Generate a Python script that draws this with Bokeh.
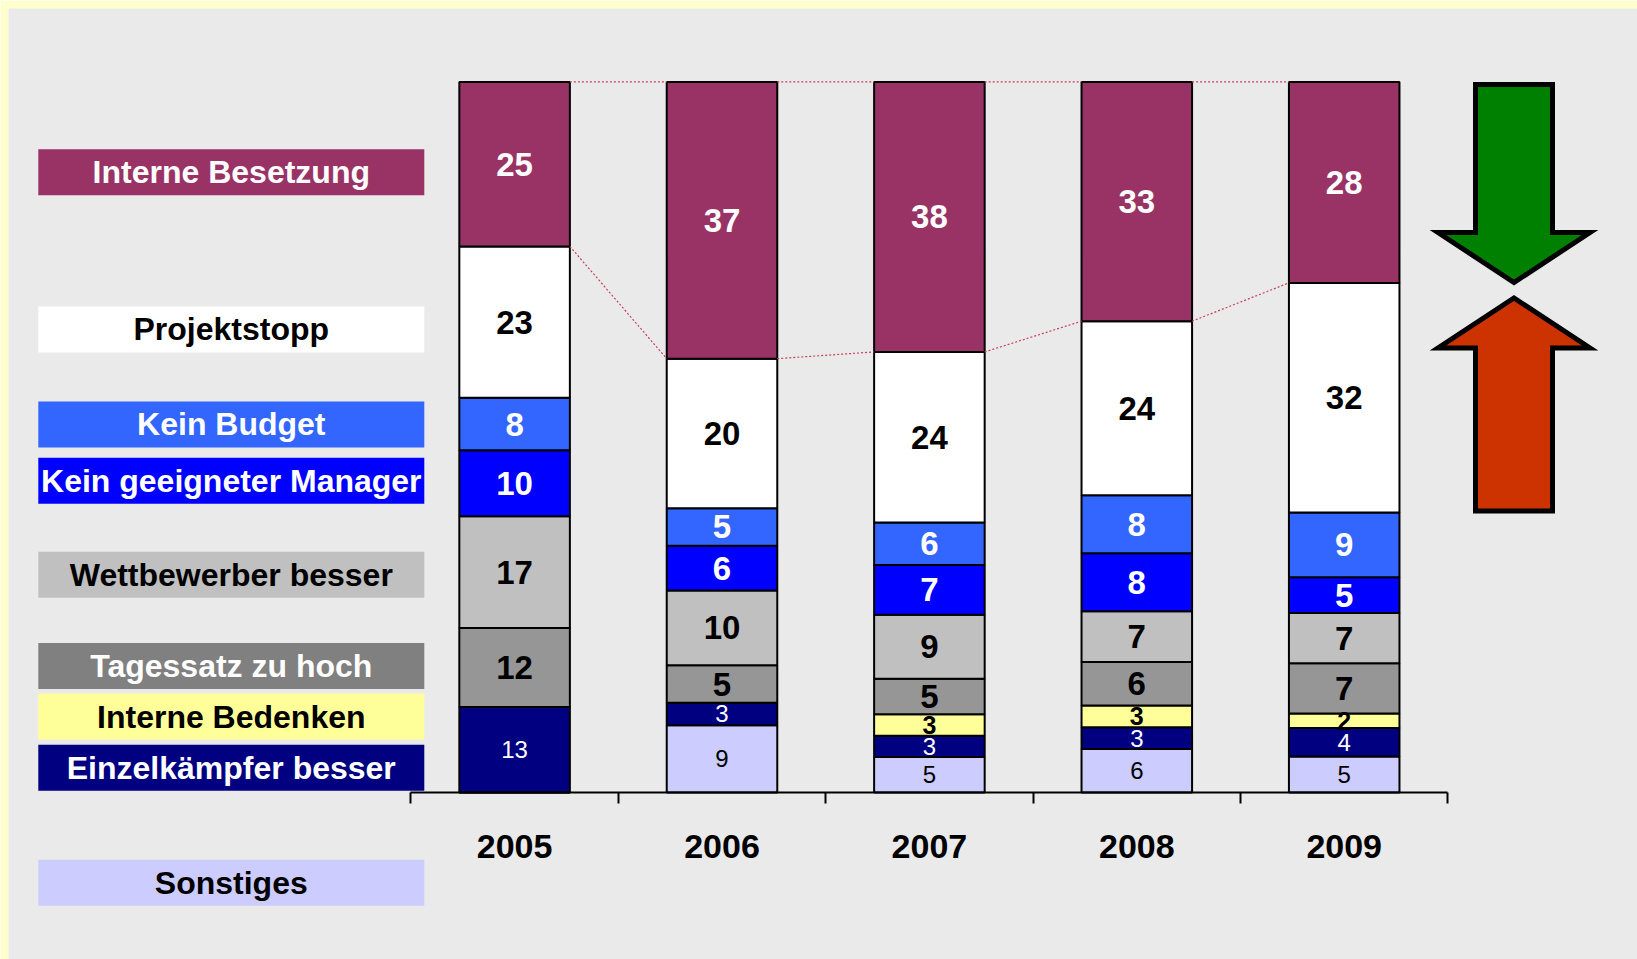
from bokeh.plotting import figure
from bokeh.models import Range1d, LinearAxis, FixedTicker, ColumnDataSource
from bokeh.core.properties import value
from bokeh.embed import file_html
from bokeh.resources import INLINE

# ---------------- data ----------------
years = ["2005", "2006", "2007", "2008", "2009"]

sonstiges = [0, 9, 5, 6, 5]
einzelkaempfer_besser = [13, 3, 3, 3, 4]
interne_bedenken = [0, 0, 3, 3, 2]
tagessatz_zu_hoch = [12, 5, 5, 6, 7]
wettbewerber_besser = [17, 10, 9, 7, 7]
kein_geeigneter_manager = [10, 6, 7, 8, 5]
kein_budget = [8, 5, 6, 8, 9]
projektstopp = [23, 20, 24, 24, 32]
interne_besetzung = [25, 37, 38, 33, 28]

series_names = ["Sonstiges", "Einzelkämpfer besser", "Interne Bedenken",
                "Tagessatz zu hoch", "Wettbewerber besser",
                "Kein geeigneter Manager", "Kein Budget", "Projektstopp",
                "Interne Besetzung"]
series_values = [sonstiges, einzelkaempfer_besser, interne_bedenken,
                 tagessatz_zu_hoch, wettbewerber_besser,
                 kein_geeigneter_manager, kein_budget, projektstopp,
                 interne_besetzung]

# ---------------- styles ----------------
bar_colors = ["#CCCCFF", "#000080", "#FFFF99", "#969696", "#C0C0C0",
              "#0000FF", "#3366FF", "#FFFFFF", "#993366"]
box_colors = ["#CCCCFF", "#000080", "#FFFF99", "#808080", "#C0C0C0",
              "#0000FF", "#3366FF", "#FFFFFF", "#993366"]
box_text_colors = ["black", "white", "black", "white", "black",
                   "white", "white", "black", "white"]
val_text_colors = ["black", "white", "black", "black", "black",
                   "white", "white", "black", "white"]
val_style = ["normal", "normal", "small", "big", "big", "big", "big", "big", "big"]

FONT = "Liberation Sans"
BG = "#EAEAEA"
EDGE = "#FFFFCC"

W, H = 1637, 959
EDGE_PX = 8
FW, FH = W - EDGE_PX, H - EDGE_PX   # frame size
# layout in frame pixels
X_BOUND_PX = 402.4      # left end of category axis
CAT_PX = 207.4          # width of one category
Y0_PX = 784.0           # baseline (0 %)
PX_PER_UNIT = 7.106     # pixels per percent


def xd(px):
    return -0.5 + (px - X_BOUND_PX) / CAT_PX


def yd(py):
    return (Y0_PX - py) / PX_PER_UNIT


p = figure(width=W, height=H, output_backend="svg", toolbar_location=None,
           x_range=Range1d(xd(0), xd(FW)), y_range=Range1d(yd(FH), yd(0)),
           x_axis_type=None, y_axis_type=None,
           min_border_left=EDGE_PX, min_border_top=EDGE_PX,
           min_border_right=0, min_border_bottom=0,
           background_fill_color=BG, border_fill_color=EDGE,
           outline_line_color=None)

# ---------------- stacked 100 % bars ----------------
n = len(years)
totals = [sum(s[i] for s in series_values) for i in range(n)]
xs = list(range(n))
BAR_W = 0.533

bottoms = [0.0] * n
label_groups = {"big": dict(x=[], y=[], t=[], c=[]),
                "small": dict(x=[], y=[], t=[], c=[]),
                "normal": dict(x=[], y=[], t=[], c=[])}
besetzung_bottom = None
for k, vals in enumerate(series_values):
    pct = [vals[i] / totals[i] * 100.0 for i in range(n)]
    tops = [bottoms[i] + pct[i] for i in range(n)]
    src = ColumnDataSource(dict(x=xs, bottom=bottoms, top=tops))
    p.vbar(x="x", bottom="bottom", top="top", width=BAR_W, source=src,
           fill_color=bar_colors[k], line_color="black", line_width=2)
    g = label_groups[val_style[k]]
    for i in range(n):
        if vals[i] > 0:
            g["x"].append(xs[i])
            g["y"].append(bottoms[i] + pct[i] / 2.0)
            g["t"].append(str(vals[i]))
            g["c"].append(val_text_colors[k])
    if series_names[k] == "Interne Besetzung":
        besetzung_bottom = list(bottoms)
    bottoms = tops

# series lines (dotted connectors)
sx0, sy0, sx1, sy1 = [], [], [], []
for i in range(n - 1):
    for yy in (bottoms, besetzung_bottom):
        sx0.append(xs[i] + BAR_W / 2)
        sy0.append(yy[i])
        sx1.append(xs[i + 1] - BAR_W / 2)
        sy1.append(yy[i + 1])
p.segment(x0=sx0, y0=sy0, x1=sx1, y1=sy1, line_color="#C8405F",
          line_width=1.2, line_dash="2 2")

fonts = {"big": ("33px", "bold"), "small": ("25px", "bold"),
         "normal": ("24px", "normal")}
for key, g in label_groups.items():
    size, style = fonts[key]
    p.text(x=g["x"], y=g["y"], text=g["t"], text_color=g["c"],
           text_align="center", text_baseline="middle",
           text_font=value(FONT), text_font_size=size, text_font_style=style)

# ---------------- category axis ----------------
ax = LinearAxis(fixed_location=0)
ax.ticker = FixedTicker(ticks=xs, minor_ticks=[i - 0.5 for i in range(n + 1)])
ax.bounds = (-0.5, n - 0.5)
ax.major_label_overrides = {i: y for i, y in enumerate(years)}
ax.axis_line_color = "black"
ax.axis_line_width = 2
ax.major_tick_line_color = None
ax.major_tick_in = 0
ax.major_tick_out = 0
ax.minor_tick_line_color = "black"
ax.minor_tick_line_width = 2
ax.minor_tick_in = 0
ax.minor_tick_out = 11
ax.major_label_standoff = 31
ax.major_label_text_font = FONT
ax.major_label_text_font_size = "34px"
ax.major_label_text_font_style = "bold"
ax.major_label_text_color = "black"
p.add_layout(ax, "below")

# ---------------- legend label boxes ----------------
legend_y_px = [874.2, 759.3, 708.0, 657.5, 566.2, 472.2, 415.9, 320.9, 163.7]
box_x = xd(222.8)
box_src = ColumnDataSource(dict(x=[box_x] * len(series_names),
                                y=[yd(v) for v in legend_y_px],
                                fill=box_colors, tc=box_text_colors,
                                name=series_names))
p.rect(x="x", y="y", width=386, height=46, width_units="screen",
       height_units="screen", fill_color="fill", line_color=None,
       source=box_src)
p.text(x="x", y="y", text="name", text_color="tc", source=box_src,
       text_align="center", text_baseline="middle",
       text_font=value(FONT), text_font_size="32px", text_font_style="bold")

# ---------------- arrows ----------------
cx = 1505.5
sw, hw = 38.5, 76.0


def arrow(base, tip, shaft_end):
    pts = [(cx - sw, shaft_end), (cx + sw, shaft_end), (cx + sw, base),
           (cx + hw, base), (cx, tip), (cx - hw, base), (cx - sw, base)]
    return [xd(a) for a, b in pts], [yd(b) for a, b in pts]


gx, gy = arrow(224.0, 274.0, 76.0)
rx, ry = arrow(339.5, 289.5, 502.5)
p.patches(xs=[gx, rx], ys=[gy, ry], fill_color=["#008000", "#CC3300"],
          line_color="black", line_width=5, line_join="miter")

open("out.html", "w").write(file_html(p, INLINE))
